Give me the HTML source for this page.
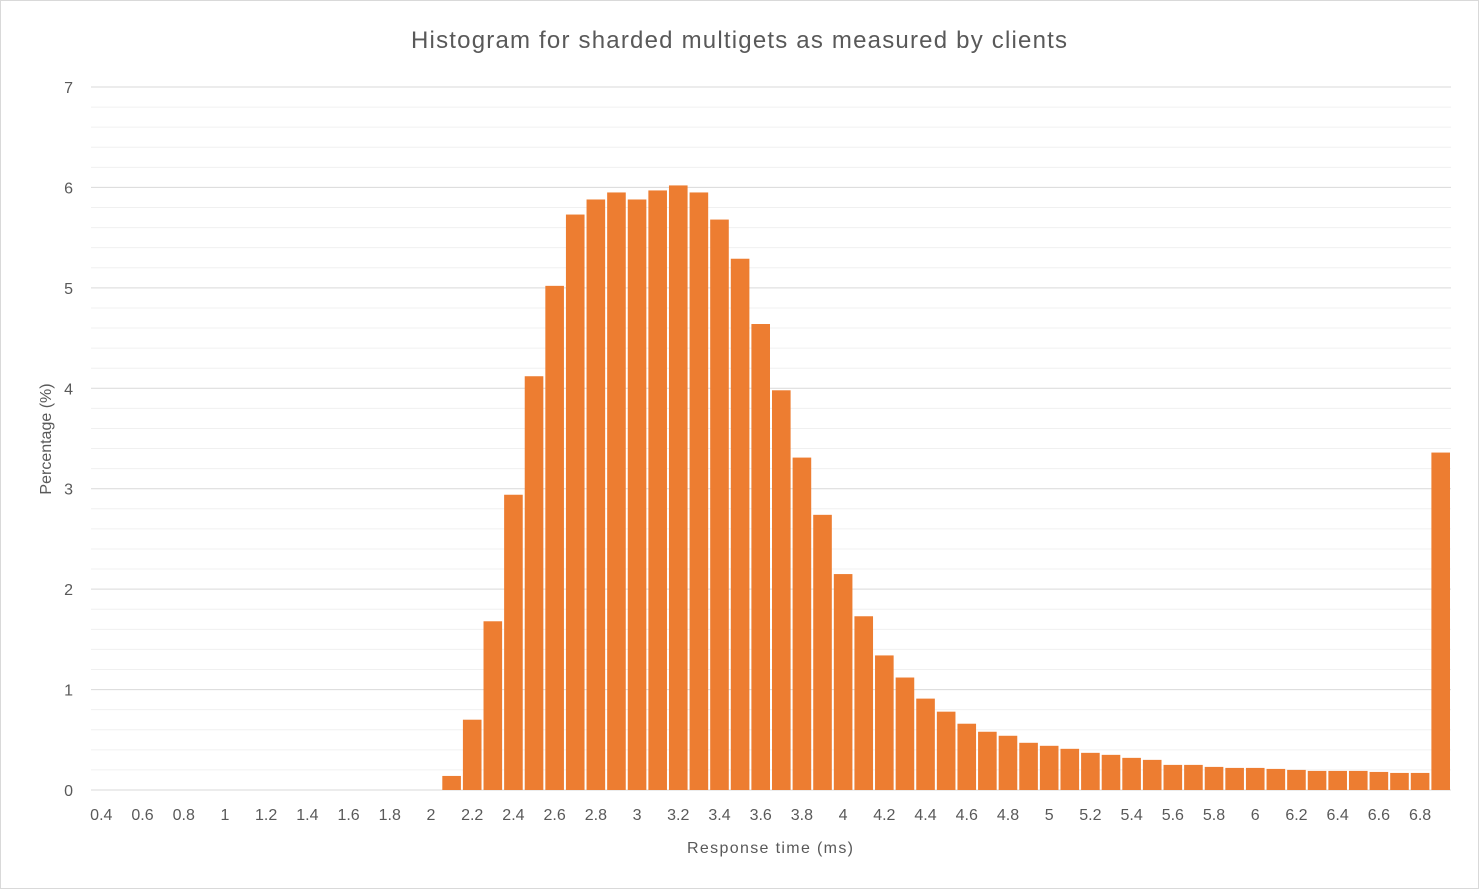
<!DOCTYPE html>
<html><head><meta charset="utf-8"><style>
body{margin:0;background:#fff;}
svg{display:block;font-family:"Liberation Sans",sans-serif;}
</style></head><body>
<svg id="chart" width="1479" height="889">
<rect x="0.5" y="0.5" width="1478" height="888" fill="#fff" stroke="#d9d9d9"/>
<text x="739" y="48" text-anchor="middle" font-size="24" fill="#595959" textLength="656" lengthAdjust="spacing">Histogram for sharded multigets as measured by clients</text>
<g id="grid"></g><g id="bars"></g><g id="yticks"></g><g id="xticks"></g>
<text x="770" y="853" text-anchor="middle" font-size="16" fill="#595959" textLength="166" lengthAdjust="spacing">Response time (ms)</text>
<text transform="translate(51,439) rotate(-90)" text-anchor="middle" font-size="16" fill="#595959">Percentage (%)</text>
</svg>
<script>
const categories = [];
for (let i = 4; i <= 69; i++) categories.push((i/10).toString());
const values = [0,0,0,0,0,0,0,0,0,0,0,0,0,0,0,0,0,
0.14,0.70,1.68,2.94,4.12,5.02,5.73,5.88,5.95,5.88,5.97,6.02,5.95,5.68,5.29,4.64,3.98,3.31,2.74,2.15,1.73,1.34,1.12,0.91,0.78,0.66,0.58,0.54,0.47,0.44,0.41,0.37,0.35,0.32,0.30,0.25,0.25,0.23,0.22,0.22,0.21,0.20,0.19,0.19,0.19,0.18,0.17,0.17,3.36];
const yTicks = [0,1,2,3,4,5,6,7];
const xTickLabels = ["0.4","0.6","0.8","1","1.2","1.4","1.6","1.8","2","2.2","2.4","2.6","2.8","3","3.2","3.4","3.6","3.8","4","4.2","4.4","4.6","4.8","5","5.2","5.4","5.6","5.8","6","6.2","6.4","6.6","6.8"];

const NS="http://www.w3.org/2000/svg";
const L=91,R=1451,Y0=790,Y7=87,yMax=7;
const bw=(R-L)/categories.length;
const y=v=>Y0-(v/yMax)*(Y0-Y7);
const x=i=>L+i*bw;
function mk(t,a,p){const e=document.createElementNS(NS,t);for(const k in a)e.setAttribute(k,a[k]);p.appendChild(e);return e;}
const grid=document.getElementById('grid');
for(let v=0.2;v<yMax+0.01;v+=0.2){
  const major=Math.abs(v-Math.round(v))<0.01;
  const g=mk('line',{x1:L,x2:R,y1:y(v),y2:y(v),stroke:major?'#d9d9d9':'#f0f0f0','stroke-width':1},grid);
  
  
}
const bars=document.getElementById('bars');
values.forEach((v,i)=>{
  if(v<=0)return;
  const r=mk('rect',{x:x(i)+1,y:y(v),width:bw-2,height:Y0-y(v),fill:'#ED7D31'},bars);
  
  
});
const ax=mk('line',{x1:L,x2:R,y1:Y0,y2:Y0,stroke:'#d9d9d9'},grid);


const yt=document.getElementById('yticks');
yTicks.forEach(v=>{
  const t=mk('text',{x:73,y:y(v)+6,'text-anchor':'end','font-size':16,fill:'#595959'},yt);
  t.textContent=v;
  
  
});
const xt=document.getElementById('xticks');
xTickLabels.forEach(lab=>{
  const i=categories.indexOf(lab);
  const t=mk('text',{x:x(i)+bw/2,y:820,'text-anchor':'middle','font-size':16,fill:'#595959'},xt);
  t.textContent=lab;
  
  
});
</script>
</body></html>
